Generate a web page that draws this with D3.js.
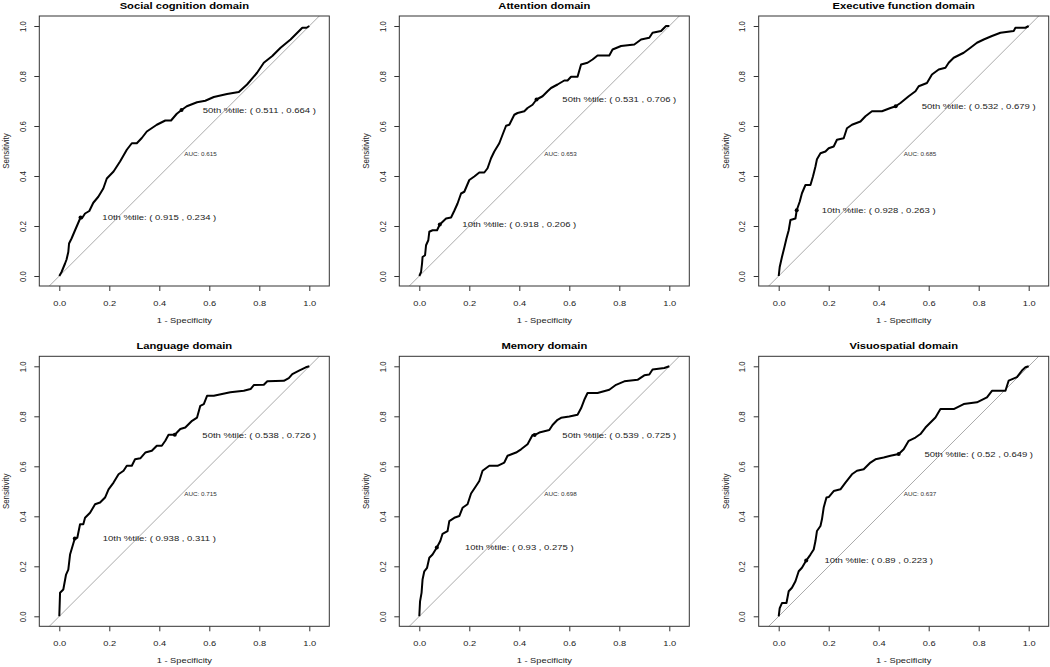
<!DOCTYPE html>
<html><head><meta charset="utf-8">
<script src="https://cdn.jsdelivr.net/npm/d3@7"></script>
<style>body{margin:0;background:#fff}svg{display:block}text{font-family:"Liberation Sans",Arial,Helvetica,sans-serif}</style>
</head><body><svg id="c" width="1050" height="667"></svg>
<script>
// ---- DATA (1 - specificity, sensitivity) ----
const titles = ["Social cognition domain","Attention domain","Executive function domain","Language domain","Memory domain","Visuospatial domain"];
const aucValues = ["0.615","0.653","0.685","0.715","0.698","0.637"];
const thr10 = [[0.915,0.234],[0.918,0.206],[0.928,0.263],[0.938,0.311],[0.93,0.275],[0.89,0.223]];
const thr50 = [[0.511,0.664],[0.531,0.706],[0.532,0.679],[0.538,0.726],[0.539,0.725],[0.52,0.649]];
const tickValues = [0,0.2,0.4,0.6,0.8,1.0];

const socialCurve = [[0,0],[0.009,0.016],[0.023,0.05],[0.029,0.066],[0.036,0.096],[0.039,0.13],[0.049,0.15],[0.063,0.183],[0.085,0.234],[0.09,0.23],[0.103,0.25],[0.12,0.26],[0.136,0.293],[0.156,0.317],[0.176,0.35],[0.19,0.39],[0.217,0.418],[0.243,0.458],[0.27,0.505],[0.29,0.531],[0.31,0.531],[0.33,0.552],[0.35,0.578],[0.39,0.605],[0.424,0.622],[0.447,0.622],[0.47,0.649],[0.489,0.664],[0.51,0.679],[0.551,0.695],[0.584,0.701],[0.618,0.716],[0.671,0.728],[0.718,0.736],[0.751,0.766],[0.791,0.813],[0.818,0.853],[0.852,0.88],[0.885,0.913],[0.925,0.946],[0.972,0.993],[0.989,0.993],[1,1]];
const attentionCurve = [[0,0],[0.007,0.016],[0.011,0.05],[0.013,0.076],[0.023,0.083],[0.027,0.123],[0.036,0.143],[0.04,0.177],[0.053,0.183],[0.071,0.183],[0.082,0.206],[0.107,0.23],[0.127,0.234],[0.14,0.261],[0.153,0.29],[0.167,0.33],[0.18,0.337],[0.2,0.384],[0.22,0.398],[0.24,0.414],[0.26,0.414],[0.273,0.431],[0.287,0.471],[0.3,0.498],[0.32,0.531],[0.333,0.565],[0.347,0.601],[0.36,0.605],[0.38,0.645],[0.393,0.652],[0.42,0.659],[0.433,0.672],[0.453,0.685],[0.469,0.706],[0.493,0.719],[0.513,0.739],[0.527,0.752],[0.553,0.766],[0.58,0.782],[0.593,0.782],[0.607,0.797],[0.633,0.797],[0.647,0.846],[0.673,0.853],[0.693,0.866],[0.713,0.882],[0.76,0.882],[0.773,0.906],[0.807,0.92],[0.86,0.926],[0.887,0.946],[0.92,0.953],[0.933,0.973],[0.967,0.98],[0.987,1],[1,1]];
const executiveCurve = [[0,0],[0.004,0.036],[0.013,0.076],[0.023,0.116],[0.031,0.15],[0.04,0.183],[0.047,0.224],[0.067,0.23],[0.072,0.263],[0.084,0.297],[0.093,0.331],[0.107,0.364],[0.127,0.364],[0.137,0.398],[0.147,0.438],[0.153,0.467],[0.167,0.491],[0.187,0.498],[0.2,0.511],[0.22,0.518],[0.233,0.545],[0.26,0.551],[0.273,0.591],[0.293,0.605],[0.327,0.618],[0.347,0.639],[0.373,0.659],[0.413,0.659],[0.447,0.672],[0.468,0.679],[0.487,0.692],[0.52,0.719],[0.547,0.739],[0.56,0.759],[0.593,0.772],[0.613,0.806],[0.64,0.826],[0.667,0.833],[0.68,0.853],[0.7,0.873],[0.74,0.893],[0.767,0.913],[0.793,0.933],[0.82,0.946],[0.853,0.96],[0.887,0.973],[0.94,0.98],[0.947,0.993],[0.987,0.993],[1,1]];
const languageCurve = [[0,0],[0.003,0.094],[0.016,0.107],[0.027,0.167],[0.036,0.187],[0.043,0.247],[0.059,0.301],[0.062,0.311],[0.072,0.314],[0.083,0.368],[0.096,0.368],[0.103,0.394],[0.123,0.414],[0.143,0.448],[0.163,0.455],[0.183,0.475],[0.197,0.508],[0.217,0.535],[0.237,0.568],[0.257,0.582],[0.27,0.602],[0.29,0.602],[0.303,0.628],[0.324,0.632],[0.344,0.655],[0.37,0.662],[0.39,0.682],[0.41,0.682],[0.424,0.702],[0.437,0.726],[0.462,0.726],[0.484,0.749],[0.504,0.755],[0.531,0.782],[0.551,0.795],[0.564,0.842],[0.578,0.849],[0.591,0.882],[0.618,0.882],[0.651,0.889],[0.684,0.896],[0.738,0.902],[0.765,0.909],[0.778,0.925],[0.818,0.926],[0.832,0.94],[0.898,0.942],[0.918,0.953],[0.932,0.969],[0.959,0.983],[0.986,0.996],[1,1]];
const memoryCurve = [[0,0],[0.003,0.06],[0.009,0.094],[0.013,0.147],[0.02,0.18],[0.031,0.194],[0.04,0.234],[0.053,0.247],[0.07,0.275],[0.084,0.301],[0.093,0.33],[0.113,0.341],[0.12,0.381],[0.14,0.394],[0.16,0.401],[0.173,0.434],[0.193,0.448],[0.207,0.491],[0.227,0.521],[0.24,0.541],[0.253,0.582],[0.28,0.602],[0.313,0.602],[0.34,0.615],[0.353,0.642],[0.387,0.655],[0.407,0.668],[0.433,0.688],[0.453,0.725],[0.461,0.725],[0.48,0.735],[0.52,0.745],[0.533,0.765],[0.553,0.786],[0.567,0.794],[0.6,0.799],[0.633,0.806],[0.647,0.832],[0.66,0.866],[0.673,0.893],[0.713,0.893],[0.76,0.906],[0.787,0.926],[0.82,0.94],[0.873,0.946],[0.9,0.964],[0.92,0.967],[0.933,0.987],[0.98,0.993],[1,1]];
const visuoCurve = [[0,0],[0.004,0.033],[0.013,0.053],[0.031,0.053],[0.04,0.1],[0.053,0.114],[0.067,0.14],[0.08,0.18],[0.093,0.194],[0.11,0.223],[0.127,0.247],[0.14,0.267],[0.147,0.301],[0.153,0.341],[0.167,0.361],[0.173,0.388],[0.18,0.435],[0.191,0.475],[0.2,0.477],[0.22,0.501],[0.247,0.508],[0.267,0.535],[0.293,0.568],[0.313,0.582],[0.34,0.588],[0.367,0.615],[0.387,0.628],[0.42,0.635],[0.447,0.642],[0.48,0.649],[0.5,0.668],[0.52,0.702],[0.547,0.715],[0.567,0.729],[0.587,0.755],[0.607,0.775],[0.627,0.795],[0.647,0.829],[0.7,0.829],[0.74,0.849],[0.793,0.856],[0.833,0.876],[0.853,0.902],[0.907,0.902],[0.92,0.943],[0.953,0.957],[0.973,0.983],[0.987,0.996],[1,1]];
const curves = [socialCurve, attentionCurve, executiveCurve, languageCurve, memoryCurve, visuoCurve];

// ---- LAYOUT ----
const colLeft = [39.3, 399.3, 758.7];
const rowTop = [16, 356.3];
const W = 290, H = 270;
const K = 0.82; // vertical squash of glyphs seen in the reference
const svg = d3.select("#c");
const ink = "#222";

function label(parent, x, y, str, o) {
  const g = parent.append("g")
    .attr("transform", `translate(${x},${y}) scale(1,${K})` + (o.rotate ? " rotate(-90)" : ""));
  const t = g.append("text").attr("x", 0).attr("y", 0)
    .attr("text-anchor", o.anchor || "middle")
    .attr("font-size", o.size).attr("fill", o.fill || ink).text(str);
  if (o.dy) t.attr("dy", o.dy);
  if (o.weight) t.attr("font-weight", o.weight);
  return g;
}

titles.forEach((t, i) => {
  const L = colLeft[i % 3], T = rowTop[Math.floor(i / 3)];
  const x = d3.scaleLinear().domain([-0.08, 1.08]).range([L, L + W]);
  const y = d3.scaleLinear().domain([-0.04, 1.04]).range([T + H, T]);
  const g = svg.append("g");
  const cid = "clip" + i;
  g.append("clipPath").attr("id", cid).append("rect").attr("x", L).attr("y", T).attr("width", W).attr("height", H);

  // diagonal
  g.append("line").attr("clip-path", `url(#${cid})`)
    .attr("x1", x(-0.1)).attr("y1", y(-0.1)).attr("x2", x(1.1)).attr("y2", y(1.1))
    .attr("stroke", "#aaa").attr("stroke-width", 1);

  // curve
  g.append("path").datum(curves[i])
    .attr("d", d3.line().x(d => x(d[0])).y(d => y(d[1])))
    .attr("fill", "none").attr("stroke", "#000").attr("stroke-width", 2).attr("stroke-linejoin", "round");

  // threshold dots
  [thr10[i], thr50[i]].forEach(p => {
    g.append("circle").attr("cx", x(1 - p[0])).attr("cy", y(p[1])).attr("r", 2).attr("fill", "#000");
  });
  // threshold labels
  label(g, x(0.4), y(thr10[i][1]), `10th %tile: ( ${thr10[i][0]} , ${thr10[i][1]} )`, {size: 9.5, dy: "0.35em"});
  label(g, x(0.8), y(thr50[i][1]), `50th %tile: ( ${thr50[i][0]} , ${thr50[i][1]} )`, {size: 9.5, dy: "0.35em"});
  // AUC
  label(g, x(0.5), y(0.489), "AUC: " + aucValues[i], {size: 6.3, dy: "0.35em", anchor: "start", fill: "#333"});

  // box
  g.append("rect").attr("x", L).attr("y", T).attr("width", W).attr("height", H)
    .attr("fill", "none").attr("stroke", "#333").attr("stroke-width", 1);

  // axes
  const xa = g.append("g").attr("transform", `translate(0,${T + H})`)
    .call(d3.axisBottom(x).tickValues(tickValues).tickSize(5).tickFormat(d3.format(".1f")));
  xa.select(".domain").remove();
  xa.selectAll("line").attr("stroke", "#333");
  xa.selectAll("text").attr("font-size", 9.3).attr("fill", ink).attr("font-family", null)
    .attr("y", 0).attr("dy", "0.36em").attr("transform", `translate(0,17.3) scale(1,${K})`);

  const ya = g.append("g").attr("transform", `translate(${L},0)`)
    .call(d3.axisLeft(y).tickValues(tickValues).tickSize(5).tickFormat(d3.format(".1f")));
  ya.select(".domain").remove();
  ya.selectAll("line").attr("stroke", "#333");
  ya.selectAll("text").attr("font-size", 9.6).attr("fill", ink).attr("font-family", null)
    .attr("x", 0).attr("y", 0).attr("dy", "0.36em").attr("text-anchor", "middle")
    .attr("transform", `translate(-17,0) scale(1,${K}) rotate(-90)`);

  // titles and labels
  label(g, L + W / 2, T - 7.3, t, {size: 11.2, weight: "bold", fill: "#000"});
  label(g, x(0.5), T + H + 37, "1 - Specificity", {size: 9.3});
  label(g, L - 30, T + H / 2, "Sensitivity", {size: 9.6, rotate: true});
});
</script></body></html>
